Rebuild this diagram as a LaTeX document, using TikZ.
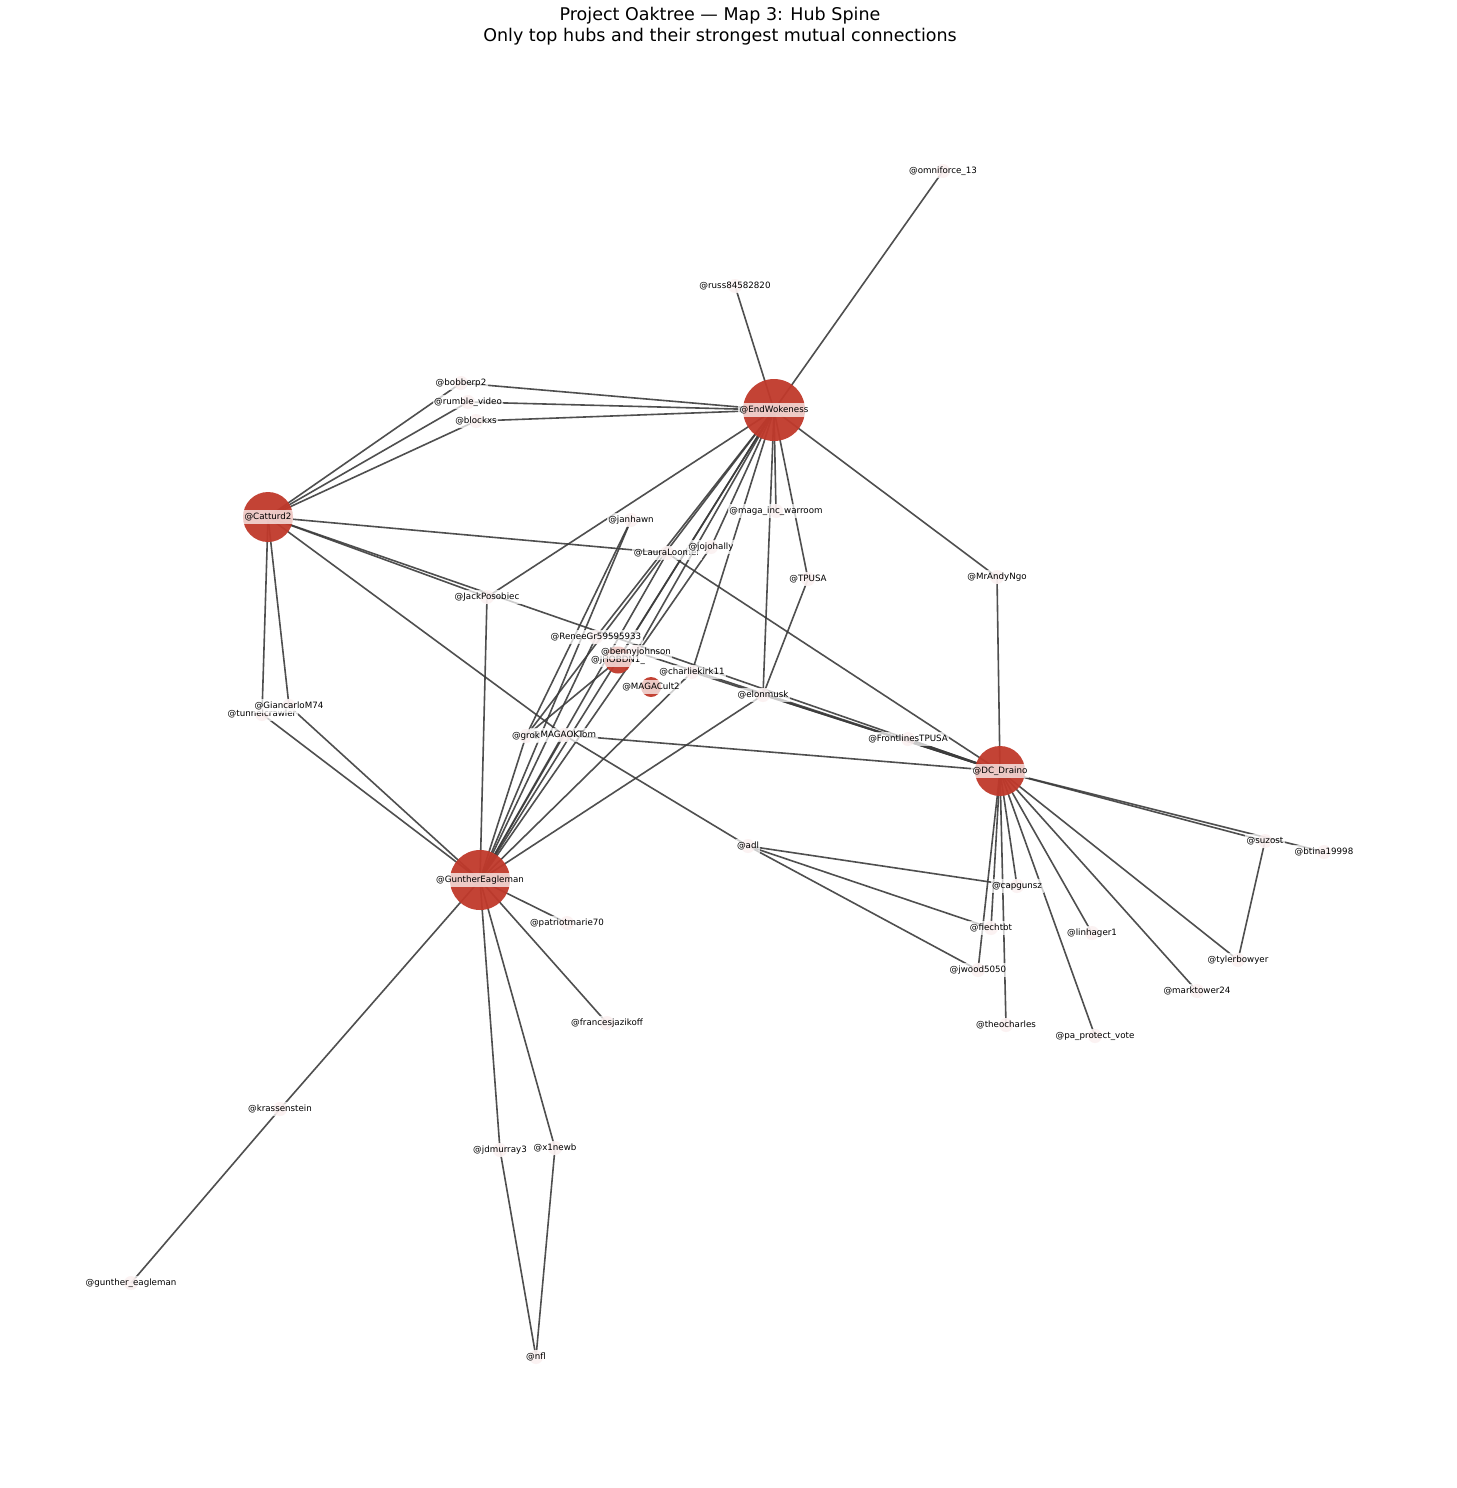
\documentclass[tikz,border=0pt]{standalone}
\usepackage{fontspec}
\setmainfont{DejaVu Sans}
\usetikzlibrary{backgrounds}
\definecolor{hubred}{RGB}{192,57,43}
\definecolor{pinknode}{RGB}{240,195,195}
\definecolor{edgegray}{RGB}{60,60,60}
\begin{document}
\begin{tikzpicture}[x=1pt,y=-1pt,
 hub/.style={circle,fill=hubred,fill opacity=0.95,draw=none,inner sep=0pt},
 leaf/.style={circle,fill=pinknode,fill opacity=0.75,draw=none,inner sep=0pt,minimum size=14pt},
 lbl/.style={fill=white,fill opacity=0.72,text opacity=1,inner xsep=1.5pt,inner ysep=2.5pt,text height=6.5pt,text depth=1.8pt,font=\fontsize{8.7}{10}\selectfont},
 link/.style={draw=edgegray,line width=1.6pt,opacity=0.9},
 ttl/.style={font=\fontsize{17.5}{21.5}\selectfont,align=center}]
\useasboundingbox (0,0) rectangle (1456,1488);
% title
\node[ttl] (title) at (720,26) {Project Oaktree — Map 3: Hub Spine\\Only top hubs and their strongest mutual connections};
% hubs
\node[hub,minimum size=62pt] (EW) at (774,410) {};
\node[hub,minimum size=50pt] (CT) at (268,517) {};
\node[hub,minimum size=60pt] (GE) at (480,880) {};
\node[hub,minimum size=50pt] (DC) at (1000,771) {};
\node[hub,minimum size=27pt] (HD) at (618,660) {};
\node[hub,minimum size=20pt] (MC) at (651,687) {};
% leaves
\node[leaf] (omni) at (943,171) {};
\node[leaf] (russ) at (735,286) {};
\node[leaf] (bob) at (461,383) {};
\node[leaf] (rum) at (468,402) {};
\node[leaf] (blk) at (476,421) {};
\node[leaf] (jan) at (631,520) {};
\node[leaf] (maga) at (776,511) {};
\node[leaf] (laura) at (667,553) {};
\node[leaf] (jojo) at (711,547) {};
\node[leaf] (tpusa) at (808,579) {};
\node[leaf] (andy) at (997,577) {};
\node[leaf] (jack) at (487,597) {};
\node[leaf] (renee) at (596,637) {};
\node[leaf] (benny) at (636,652) {};
\node[leaf] (charlie) at (692,672) {};
\node[leaf] (elon) at (763,695) {};
\node[leaf] (gian) at (289,706) {};
\node[leaf] (tunnel) at (262,714) {};
\node[leaf] (grok) at (526,736) {};
\node[leaf] (magaok) at (564,735) {};
\node[leaf] (front) at (908,739) {};
\node[leaf] (adl) at (748,846) {};
\node[leaf] (suz) at (1265,841) {};
\node[leaf] (btina) at (1324,852) {};
\node[leaf] (capg) at (1017,886) {};
\node[leaf] (fiech) at (991,928) {};
\node[leaf] (lin) at (1092,933) {};
\node[leaf] (tyler) at (1238,960) {};
\node[leaf] (jwood) at (978,970) {};
\node[leaf] (mark) at (1197,991) {};
\node[leaf] (theo) at (1006,1025) {};
\node[leaf] (pa) at (1095,1036) {};
\node[leaf] (pat) at (567,923) {};
\node[leaf] (fran) at (607,1023) {};
\node[leaf] (krass) at (280,1109) {};
\node[leaf] (jdm) at (500,1150) {};
\node[leaf] (xone) at (555,1148) {};
\node[leaf] (gun) at (131,1283) {};
\node[leaf] (nfl) at (536,1357) {};
% edges
\begin{pgfonlayer}{background}
\fill[white] (0,0) rectangle (1456,1488);
\foreach \a/\b in {EW/omni,EW/russ,EW/bob,EW/rum,EW/blk,EW/andy,EW/maga,EW/tpusa,EW/elon,EW/charlie,EW/jojo,EW/renee,EW/HD,EW/GE,EW/jack,EW/grok,EW/benny,
  CT/bob,CT/rum,CT/blk,CT/laura,CT/jack,CT/DC,CT/magaok,CT/gian,CT/tunnel,
  GE/tunnel,GE/gian,GE/jack,GE/jan,GE/renee,GE/laura,GE/jojo,GE/charlie,GE/elon,GE/grok,GE/magaok,GE/pat,GE/fran,GE/krass,GE/jdm,GE/xone,
  krass/gun,jdm/nfl,xone/nfl,jan/grok,HD/grok,tpusa/elon,
  DC/andy,DC/laura,DC/magaok,DC/benny,DC/charlie,DC/elon,DC/front,DC/suz,DC/btina,DC/tyler,DC/mark,DC/lin,DC/pa,DC/theo,DC/capg,DC/fiech,DC/jwood,
  suz/tyler,magaok/adl,adl/capg,adl/fiech,adl/jwood}
  \draw[link] (\a.center) -- (\b.center);
\end{pgfonlayer}
% labels
\node[lbl] (EWt) at (EW) {@EndWokeness};
\node[lbl] (CTt) at (CT) {@Catturd2};
\node[lbl] (GEt) at (GE) {@GuntherEagleman};
\node[lbl] (DCt) at (DC) {@DC\_Draino};
\node[lbl] (HDt) at (HD) {@JHOBDN1\_};
\node[lbl] (MCt) at (MC) {@MAGACult2};
\node[lbl] (omnit) at (omni) {@omniforce\_13};
\node[lbl] (russt) at (russ) {@russ84582820};
\node[lbl] (bobt) at (bob) {@bobberp2};
\node[lbl] (rumt) at (rum) {@rumble\_video};
\node[lbl] (blkt) at (blk) {@blockxs};
\node[lbl] (jant) at (jan) {@janhawn};
\node[lbl] (magat) at (maga) {@maga\_inc\_warroom};
\node[lbl] (laurat) at (laura) {@LauraLoomer};
\node[lbl] (jojot) at (jojo) {@jojohally};
\node[lbl] (tpusat) at (tpusa) {@TPUSA};
\node[lbl] (andyt) at (andy) {@MrAndyNgo};
\node[lbl] (jackt) at (jack) {@JackPosobiec};
\node[lbl] (reneet) at (renee) {@ReneeGr59595933};
\node[lbl] (bennyt) at (benny) {@bennyjohnson};
\node[lbl] (charliet) at (charlie) {@charliekirk11};
\node[lbl] (elont) at (elon) {@elonmusk};
\node[lbl] (tunnelt) at (tunnel) {@tunnelcrawler};
\node[lbl] (giant) at (gian) {@GiancarloM74};
\node[lbl] (magaokt) at (magaok) {@MAGAOKTom};
\node[lbl] (grokt) at (grok) {@grok};
\node[lbl] (frontt) at (front) {@FrontlinesTPUSA};
\node[lbl] (adlt) at (adl) {@adl};
\node[lbl] (suzt) at (suz) {@suzost};
\node[lbl] (btinat) at (btina) {@btina19998};
\node[lbl] (capgt) at (capg) {@capgunsz};
\node[lbl] (fiecht) at (fiech) {@fiechtbt};
\node[lbl] (lint) at (lin) {@linhager1};
\node[lbl] (tylert) at (tyler) {@tylerbowyer};
\node[lbl] (jwoodt) at (jwood) {@jwood5050};
\node[lbl] (markt) at (mark) {@marktower24};
\node[lbl] (theot) at (theo) {@theocharles};
\node[lbl] (pat_t) at (pa) {@pa\_protect\_vote};
\node[lbl] (patt) at (pat) {@patriotmarie70};
\node[lbl] (frant) at (fran) {@francesjazikoff};
\node[lbl] (krasst) at (krass) {@krassenstein};
\node[lbl] (jdmt) at (jdm) {@jdmurray3};
\node[lbl] (xonet) at (xone) {@x1newb};
\node[lbl] (gunt) at (gun) {@gunther\_eagleman};
\node[lbl] (nflt) at (nfl) {@nfl};
\end{tikzpicture}
\end{document}
